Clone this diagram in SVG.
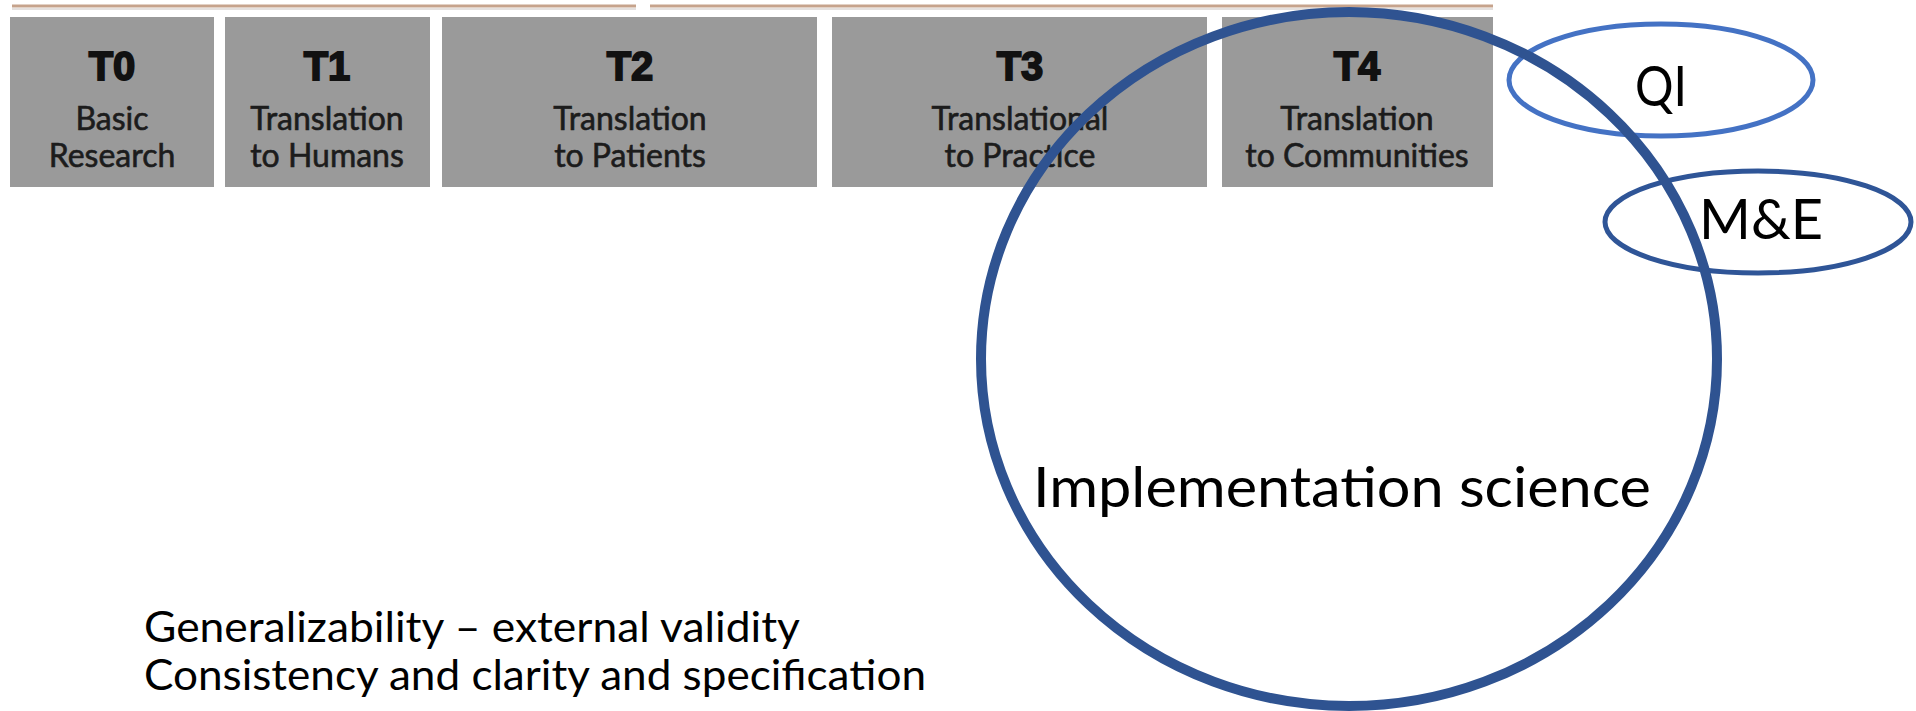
<svg xmlns="http://www.w3.org/2000/svg" width="1916" height="711" viewBox="0 0 1916 711">
  <style>
    .stage { fill: #9a9a9a; }
    .tag { font-family: "Liberation Sans", Arial, sans-serif; font-weight: bold; font-size: 40px; fill: #111; stroke: #111; stroke-width: 1.8px; text-anchor: middle; }
    .sub { font-family: Lato, "Open Sans", sans-serif; font-size: 32px; fill: #1c1c1c; stroke: #1c1c1c; stroke-width: 0.6px; text-anchor: middle; }
    .label { font-family: Lato, "Open Sans", sans-serif; fill: #000; }
    .rule { stroke: #c6a38c; stroke-width: 3; fill: none; }
    .rule-shade { stroke: #e4e0de; stroke-width: 2; fill: none; }
  </style>

  <rect width="1916" height="711" fill="#ffffff"/>

  <!-- timeline rule above the stages -->
  <g id="timeline-rule">
    <line class="rule" x1="12" y1="6" x2="636" y2="6"/>
    <line class="rule-shade" x1="12" y1="9" x2="636" y2="9"/>
    <line class="rule" x1="650" y1="6" x2="1493" y2="6"/>
    <line class="rule-shade" x1="650" y1="9" x2="1493" y2="9"/>
  </g>

  <!-- translational stages -->
  <g id="t0">
    <rect class="stage" x="10" y="17" width="204" height="170"/>
    <text class="tag" x="112" y="80">T0</text>
    <text class="sub" x="112" y="130">Basic</text>
    <text class="sub" x="112" y="167">Research</text>
  </g>
  <g id="t1">
    <rect class="stage" x="225" y="17" width="205" height="170"/>
    <text class="tag" x="327" y="80">T1</text>
    <text class="sub" x="327" y="130">Translation</text>
    <text class="sub" x="327" y="167">to Humans</text>
  </g>
  <g id="t2">
    <rect class="stage" x="442" y="17" width="375" height="170"/>
    <text class="tag" x="630" y="80">T2</text>
    <text class="sub" x="630" y="130">Translation</text>
    <text class="sub" x="630" y="167">to Patients</text>
  </g>
  <g id="t3">
    <rect class="stage" x="832" y="17" width="375" height="170"/>
    <text class="tag" x="1020" y="80">T3</text>
    <text class="sub" x="1020" y="130">Translational</text>
    <text class="sub" x="1020" y="167">to Practice</text>
  </g>
  <g id="t4">
    <rect class="stage" x="1222" y="17" width="271" height="170"/>
    <text class="tag" x="1357" y="80">T4</text>
    <text class="sub" x="1357" y="130">Translation</text>
    <text class="sub" x="1357" y="167">to Communities</text>
  </g>

  <!-- overlapping fields -->
  <g id="qi">
    <ellipse cx="1661" cy="80" rx="152" ry="56" fill="none" stroke="#4472c4" stroke-width="5"/>
    <text class="label" x="1635" y="106" font-size="56" textLength="52" lengthAdjust="spacingAndGlyphs">QI</text>
  </g>
  <g id="m-and-e">
    <ellipse cx="1758" cy="222" rx="153" ry="51" fill="none" stroke="#2f5597" stroke-width="5"/>
    <text class="label" x="1699" y="239" font-size="56" textLength="124" lengthAdjust="spacingAndGlyphs">M&amp;E</text>
  </g>
  <g id="implementation-science">
    <ellipse cx="1349" cy="359" rx="368" ry="347" fill="none" stroke="#2f5391" stroke-width="10"/>
    <text class="label" x="1033" y="507" font-size="57" textLength="618" lengthAdjust="spacingAndGlyphs">Implementation science</text>
  </g>

  <!-- notes -->
  <g id="notes">
    <text class="label" x="144" y="642" font-size="42" textLength="656" lengthAdjust="spacingAndGlyphs">Generalizability – external validity</text>
    <text class="label" x="144" y="690" font-size="42" textLength="782" lengthAdjust="spacingAndGlyphs">Consistency and clarity and specification</text>
  </g>

  <g id="connectors"/>
</svg>
